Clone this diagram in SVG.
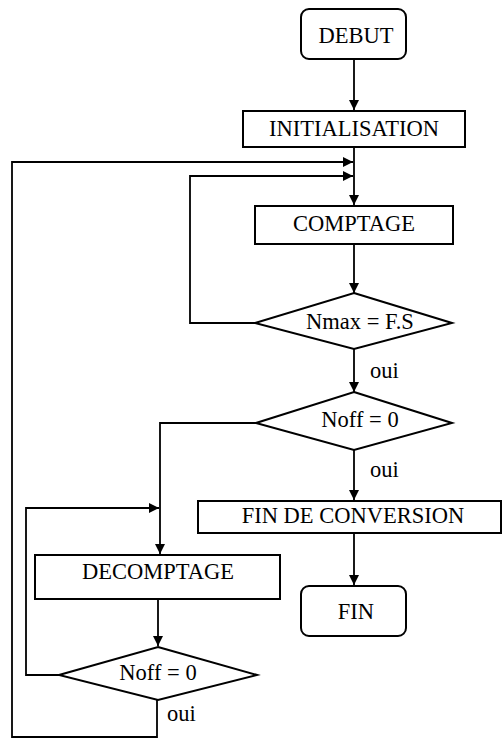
<svg xmlns="http://www.w3.org/2000/svg" width="502" height="738" viewBox="0 0 502 738">
<style>
.box{fill:#fff;stroke:#000;stroke-width:2}
.ln{fill:none;stroke:#000;stroke-width:1.8}
text{font-family:"Liberation Serif","Times New Roman",serif;font-size:22.5px;fill:#000}
.c{text-anchor:middle}
</style>
<defs>
<marker id="ah" viewBox="0 0 10 10" refX="10" refY="5" markerWidth="10" markerHeight="10" markerUnits="userSpaceOnUse" orient="auto">
<path d="M0,0 L10,5 L0,10 Z" fill="#000"/>
</marker>
</defs>
<rect width="502" height="738" fill="#fff"/>
<g id="connectors">
<line class="ln" x1="354" y1="59" x2="354" y2="110" marker-end="url(#ah)"/>
<line class="ln" x1="354" y1="147" x2="354" y2="205" marker-end="url(#ah)"/>
<line class="ln" x1="354" y1="244" x2="354" y2="293" marker-end="url(#ah)"/>
<polyline class="ln" points="255,323 190,323 190,176 353,176" marker-end="url(#ah)"/>
<line class="ln" x1="354" y1="349" x2="354" y2="392" marker-end="url(#ah)"/>
<line class="ln" x1="354" y1="450" x2="354" y2="500" marker-end="url(#ah)"/>
<line class="ln" x1="354" y1="533" x2="354" y2="585" marker-end="url(#ah)"/>
<polyline class="ln" points="256,423 160,423 160,554" marker-end="url(#ah)"/>
<line class="ln" x1="158" y1="599" x2="158" y2="646" marker-end="url(#ah)"/>
<polyline class="ln" points="59,675 26,675 26,508 159,508" marker-end="url(#ah)"/>
<polyline class="ln" points="157,700 157,737 12,737 12,162 353,162" marker-end="url(#ah)"/>
<text x="370" y="378">oui</text>
<text x="370" y="477">oui</text>
<text x="167" y="721">oui</text>
</g>
<g id="debut">
<rect class="box" x="301" y="9" width="105" height="50" rx="8"/>
<text class="c" x="356" y="43">DEBUT</text>
</g>
<g id="initialisation">
<rect class="box" x="243" y="111" width="222" height="36"/>
<text class="c" x="354" y="136">INITIALISATION</text>
</g>
<g id="comptage">
<rect class="box" x="255" y="206" width="198" height="38"/>
<text class="c" x="354" y="231">COMPTAGE</text>
</g>
<g id="test-nmax">
<polygon class="box" points="354,293 452,323 354,349 255,323"/>
<text class="c" x="360" y="329">Nmax = F.S</text>
</g>
<g id="test-noff1">
<polygon class="box" points="354,392 452,423 354,450 256,423"/>
<text class="c" x="360" y="427">Noff = 0</text>
</g>
<g id="fin-conversion">
<rect class="box" x="198" y="501" width="303" height="32"/>
<text class="c" x="353" y="523">FIN DE CONVERSION</text>
</g>
<g id="fin">
<rect class="box" x="301" y="586" width="105" height="50" rx="8"/>
<text class="c" x="356" y="619">FIN</text>
</g>
<g id="decomptage">
<rect class="box" x="35" y="555" width="245" height="44"/>
<text class="c" x="158" y="579">DECOMPTAGE</text>
</g>
<g id="test-noff2">
<polygon class="box" points="158,647 257,675 158,700 59,675"/>
<text class="c" x="158" y="680">Noff = 0</text>
</g>
</svg>
